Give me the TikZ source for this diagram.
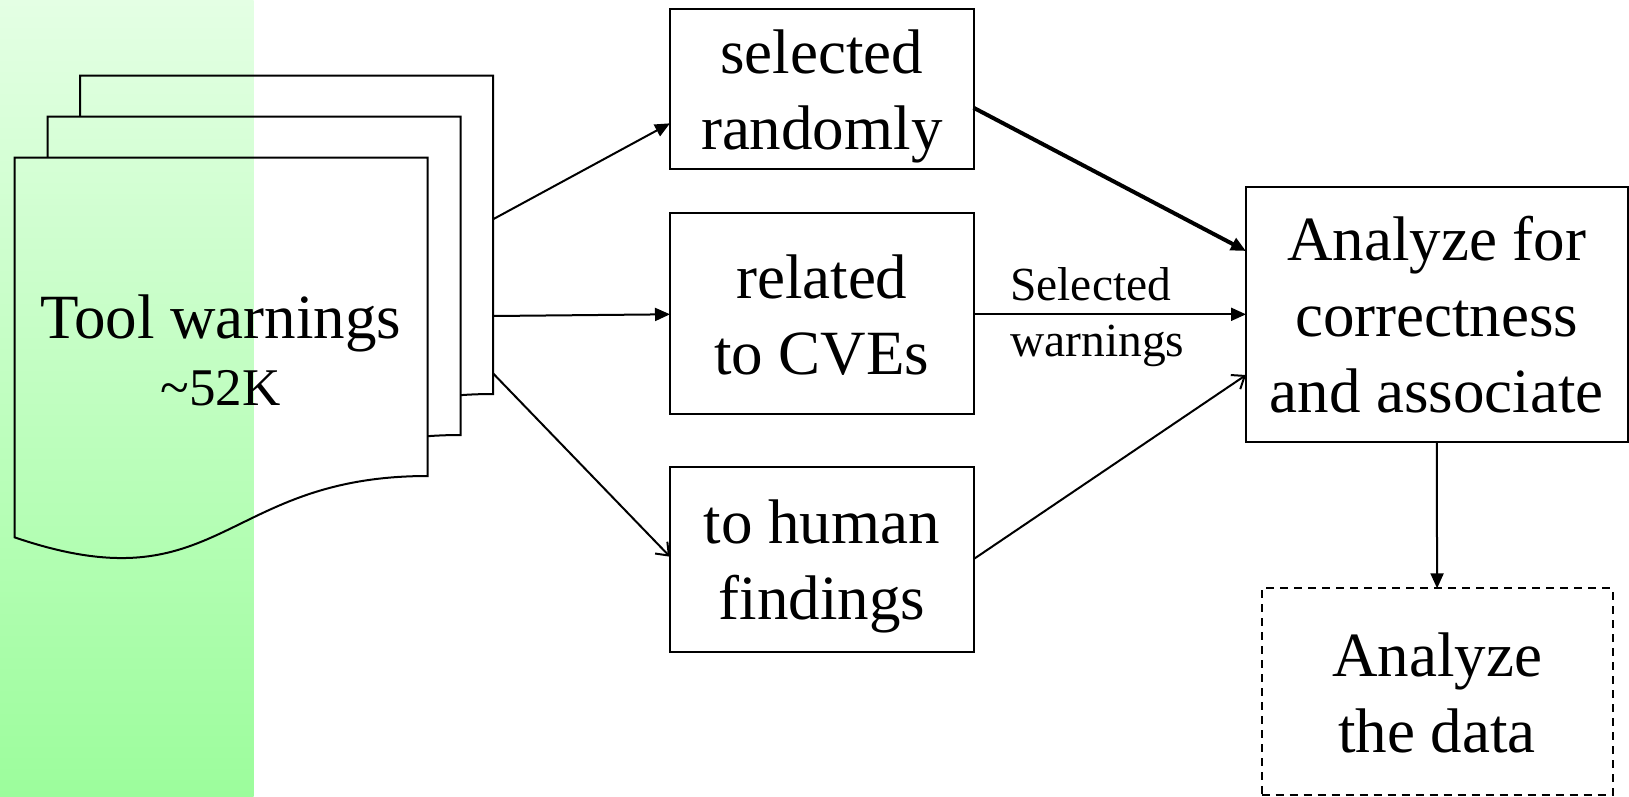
\documentclass[tikz,border=0pt]{standalone}
\usepackage{fontspec}
\setmainfont{Liberation Serif}
\usetikzlibrary{arrows.meta}
\definecolor{gtop}{RGB}{228,255,228}
\definecolor{gbot}{RGB}{156,253,156}
\newcommand\hiA{\rule{0pt}{60pt}}
\newcommand\loA{\rule[-15pt]{0pt}{15pt}}
\newcommand\hiB{\rule{0pt}{45pt}}
\newcommand\loB{\rule[-12pt]{0pt}{12pt}}
\begin{document}
\begin{tikzpicture}[x=1pt,y=-1pt,
  box/.style={draw, line width=2pt, align=center, inner sep=0pt, outer sep=0pt,
    font=\fontsize{63}{76}\selectfont},
  dbox/.style={box, dashed, dash pattern=on 8pt off 6pt},
  doctext/.style={align=center, inner sep=0pt, font=\fontsize{63}{67}\selectfont},
  lbltext/.style={align=left, inner sep=0pt, anchor=west, font=\fontsize{47.5}{56.7}\selectfont},
  arr/.style={-{Triangle[length=15pt,width=13pt]}, line width=2pt},
  oarr/.style={-{Straight Barb[length=11pt,width=17pt,line width=2pt]}, line width=2pt},
  page/.style={line width=2pt, line join=miter}]
\useasboundingbox (0,0) rectangle (1629,796);
\fill[white] (0,0) rectangle (1629,796);
\shade[top color=gtop,bottom color=gbot] (0,0) rectangle (253.5,796);
\def\docp{(14.5,157.7) -- (427.5,157.7) -- (427.5,476) .. controls (221,476) and (221,607.8) .. (14.5,537.3) -- cycle}
\foreach \dx/\dy in {65.5/-82, 33/-41, 0/0}{
  \begin{scope}[shift={(\dx,\dy)}]
    \fill[white] \docp;
    \begin{scope}
      \clip \docp;
      \shade[top color=gtop,bottom color=gbot] ({-(\dx)},{-(\dy)}) rectangle ({253.5-(\dx)},{796-(\dy)});
    \end{scope}
    \draw[page] \docp;
  \end{scope}
}
\node[doctext] (tw) at (220.75,349.3) {\hiA Tool warnings\\{\fontsize{53}{67}\selectfont\textasciitilde52K}\loA};
\coordinate (s1) at (493,219.3);
\coordinate (s2) at (493,316);
\coordinate (s3) at (493,373.3);
\node[box, minimum width=303.5pt, minimum height=160pt] (sr) at (821.75,89.4) {\hiA selected\\randomly\loA};
\node[box, minimum width=303.5pt, minimum height=201pt] (rc) at (821.75,313.8) {\hiA related\\to CVEs\loA};
\node[box, minimum width=303.5pt, minimum height=185pt] (hf) at (821.75,559.2) {\hiA to human\\findings\loA};
\node[box, minimum width=381.5pt, minimum height=254.6pt] (an) at (1436.75,314.3) {\hiA Analyze for\\correctness\\and associate\loA};
\node[dbox, minimum width=350.8pt, minimum height=206.5pt] (da) at (1437.1,691.6) {\hiA Analyze\\the data\loA};
\node[lbltext] (lbl) at (1010,311.85) {\hiB Selected\\warnings\loB};
\draw[arr] (s1) -- ([yshift=-33.9pt]sr.west);
\draw[arr] (s2) -- ([yshift=-0.5pt]rc.west);
\draw[oarr] (s3) -- ([yshift=2.5pt]hf.west);
\draw[arr, line width=4pt] ([yshift=-18.3pt]sr.east) -- ([yshift=63.3pt]an.west);
\draw[arr] (rc.east |- an.west) -- (an.west);
\draw[oarr] (hf.east) -- ([yshift=-60.7pt]an.west);
\draw[arr] (an.south) -- (da.north);
\end{tikzpicture}
\end{document}
